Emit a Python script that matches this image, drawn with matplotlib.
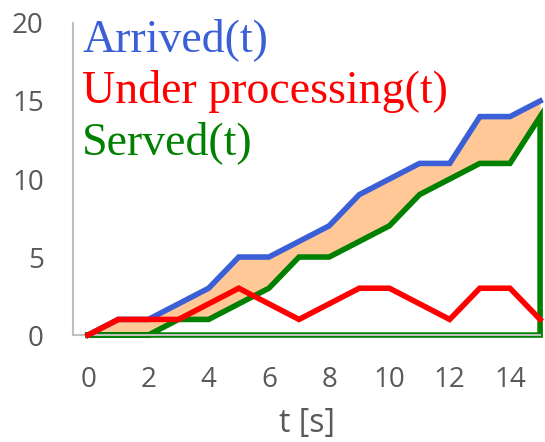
import matplotlib
matplotlib.use("Agg")
import matplotlib.pyplot as plt

t = list(range(16))
arrived = [0, 1, 1, 2, 3, 5, 5, 6, 7, 9, 10, 11, 11, 14, 14, 15]
served = [0, 0, 0, 1, 1, 2, 3, 5, 5, 6, 7, 9, 10, 11, 11, 14]
under = [a - s for a, s in zip(arrived, served)]
xticks = [0, 2, 4, 6, 8, 10, 12, 14]
yticks = [0, 5, 10, 15, 20]

fig = plt.figure(figsize=(5.45, 4.42), dpi=100)
ax = fig.add_axes([0.134, 0.242, 0.857, 0.706])

ax.fill_between(t, served, arrived, color="#FFC896", lw=0, zorder=1)
ax.plot(t, arrived, color="#3A5FD6", lw=4, zorder=3, clip_on=False, solid_joinstyle="miter")
sx = t + [t[-1], t[0]]
sy = served + [0, 0]
ax.plot(sx, sy, color="#008000", lw=4, zorder=2, clip_on=False, solid_joinstyle="miter")
ax.plot(t, under, color="#FF0000", lw=4, zorder=4, clip_on=False, solid_joinstyle="miter")

ax.set_xlim(-0.5, 15)
ax.set_ylim(0, 20)
ax.set_xticks(xticks)
ax.set_yticks(yticks)
for s in ["top", "right"]:
    ax.spines[s].set_visible(False)
for s in ["left", "bottom"]:
    ax.spines[s].set_color("#BFBFBF")
    ax.spines[s].set_linewidth(1.5)
ax.tick_params(length=0, labelsize=20, labelcolor="#595959")
ax.tick_params(axis="x", pad=22)
ax.tick_params(axis="y", pad=21)
for lab in ax.get_xticklabels() + ax.get_yticklabels():
    lab.set_fontfamily("Open Sans")
ax.set_xlabel("t [s]", fontsize=23, color="#595959", fontfamily="Open Sans", labelpad=10)

kw = dict(transform=ax.transAxes, fontsize=33, fontfamily="Liberation Serif", va="top", ha="left")
ax.text(0.02, 1.015, "Arrived(t)", color="#3A5FD6", **kw)
ax.text(0.02, 0.85, "Under processing(t)", color="#FF0000", **kw)
ax.text(0.02, 0.685, "Served(t)", color="#008000", **kw)

fig.savefig("out.png", dpi=100)
